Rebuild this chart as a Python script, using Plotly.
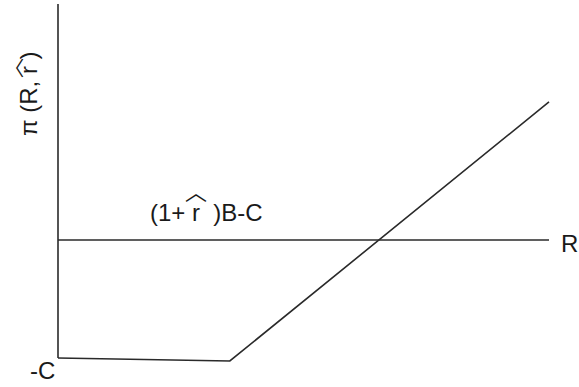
import plotly.graph_objects as go

# Profit schedule pi(R, r_hat) as a function of project return R
R_pts = [0.0, 3.5, 10.0]
pi_pts = [-1.0, -1.025, 1.17]

# Constant payoff (1 + r_hat)B - C
level_R = [0.0, 10.0]
level_pi = [0.0, 0.0]

# Vertical axis extent
axis_R = [0.0, 0.0]
axis_pi = [-1.0, 2.0]

W, H = 579, 387
px_per_R = 49.1
px_per_pi = 118.0
x0_px, y0_px = 58, 240  # pixel position of R=0, pi=0

line_style = dict(color="#2a2a2a", width=1.6)
font = dict(family="Liberation Sans, Arial, sans-serif", color="#1a1a1a")
hat_font = dict(family="Noto Sans CJK SC, sans-serif", color="#1a1a1a")


def px(x, y):
    """Convert a pixel position to paper coordinates."""
    return x / W, 1 - y / H


fig = go.Figure()
fig.add_trace(go.Scatter(x=axis_R, y=axis_pi, mode="lines", line=line_style, hoverinfo="skip"))
fig.add_trace(go.Scatter(x=level_R, y=level_pi, mode="lines", line=line_style, hoverinfo="skip"))
fig.add_trace(go.Scatter(x=R_pts, y=pi_pts, mode="lines", line=line_style, hoverinfo="skip"))

xr = [(0 - x0_px) / px_per_R, (W - x0_px) / px_per_R]
yr = [(y0_px - H) / px_per_pi, y0_px / px_per_pi]


def label(x, y, text, size=24, angle=0, f=font):
    ax, ay = px(x, y)
    fig.add_annotation(x=ax, y=ay, xref="paper", yref="paper", text=text, showarrow=False,
                       xanchor="center", yanchor="middle", textangle=angle,
                       font=dict(size=size, **f), borderpad=0)


label(569, 243, "R")
label(42, 370, "-C")
label(206, 212, "(1+\u00a0r\u00a0\u00a0)B-C")
label(196, 190, "\ufe3f", size=22, f=hat_font)
label(28, 94, "\u03c0\u00a0(R,\u00a0r\u00a0)", size=24, angle=-90)
label(13, 68, "\ufe3f", size=20, angle=-90, f=hat_font)

fig.update_layout(
    width=W, height=H,
    margin=dict(l=0, r=0, t=0, b=0),
    paper_bgcolor="white", plot_bgcolor="white",
    showlegend=False,
    xaxis=dict(range=xr, visible=False, fixedrange=True),
    yaxis=dict(range=yr, visible=False, fixedrange=True),
)
fig.write_html("out.html")
